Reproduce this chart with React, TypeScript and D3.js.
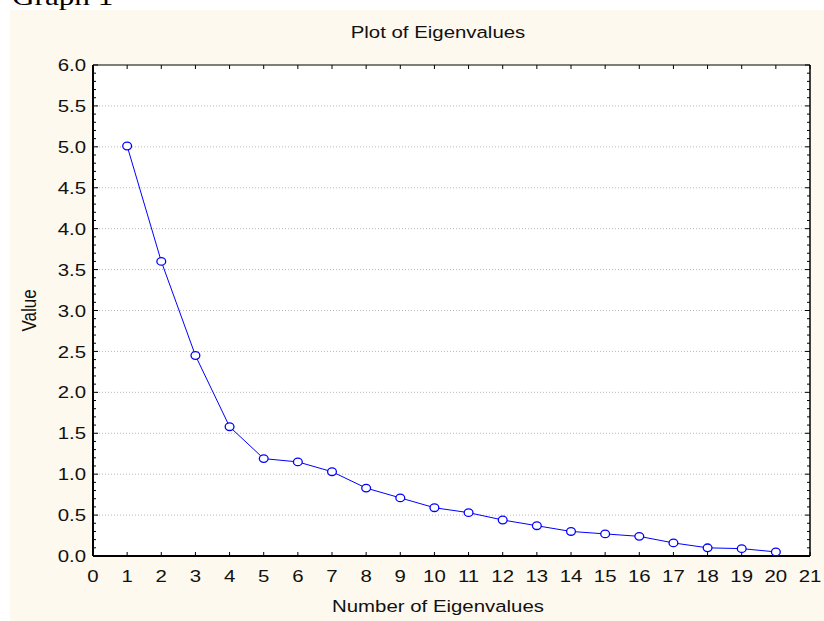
import * as d3 from 'd3';

// eigenvalues
const eigenIndex = [1, 2, 3, 4, 5, 6, 7, 8, 9, 10, 11, 12, 13, 14, 15, 16, 17, 18, 19, 20];
const eigenValues = [5.01, 3.6, 2.45, 1.58, 1.19, 1.15, 1.03, 0.83, 0.71, 0.59, 0.53, 0.44, 0.37, 0.3, 0.27, 0.24, 0.16, 0.1, 0.09, 0.05];
const xTicks = d3.range(0, 22);
const yTicks = [0, 0.5, 1, 1.5, 2, 2.5, 3, 3.5, 4, 4.5, 5, 5.5, 6];

const W = 824;
const H = 621;
const left = 93, right = 810, top = 65, bottom = 556;
// the original picture is a bit wider than tall, text looks stretched
const SX = 1.2;

export default function App() {
  const x = d3.scaleLinear().domain([0, 21]).range([left, right]);
  const y = d3.scaleLinear().domain([0, 6]).range([bottom, top]);
  const minor = d3.range(0, 61).map(i => i / 10);

  const line = d3.line<number>()
    .x((_, i) => x(eigenIndex[i]))
    .y(d => y(d));

  const font = "'Liberation Sans', Arial, sans-serif";
  const txt = (key: string, tx: number, ty: number, s: string, anchor = 'middle', dy = '0') => (
    <text key={key} transform={`translate(${tx},${ty}) scale(${SX},1)`} dy={dy} textAnchor={anchor}
      fontFamily={font} fontSize={17} fill="#111">{s}</text>
  );

  return (
    <svg width={W} height={H} style={{ position: 'absolute', left: 0, top: 0 }}>
      <rect x={10} y={10} width={W - 10} height={H - 10} fill="#fdf9ee" />
      <text transform={`translate(12,5) scale(${SX},1)`} fontFamily="'Liberation Serif', 'Times New Roman', serif" fontSize={26} fill="#000">Graph 1</text>

      <rect x={left} y={top} width={right - left} height={bottom - top} fill="#fff" />

      {/* dotted grid */}
      {yTicks.slice(1, -1).map(t => (
        <line key={'g' + t} x1={left} x2={right} y1={y(t)} y2={y(t)}
          stroke="#b8b8b8" strokeWidth={1} strokeDasharray="1,2" />
      ))}

      {/* minor/major y ticks, left & right */}
      {minor.map((t, i) => {
        const len = i % 5 === 0 ? 5 : 3;
        return (
          <g key={'m' + i}>
            <line x1={left} x2={left + len} y1={y(t)} y2={y(t)} stroke="#000" strokeWidth={1} />
            <line x1={right} x2={right - len} y1={y(t)} y2={y(t)} stroke="#000" strokeWidth={1} />
          </g>
        );
      })}

      {/* x ticks bottom & top */}
      {xTicks.map(t => (
        <g key={'x' + t}>
          <line x1={x(t)} x2={x(t)} y1={bottom} y2={bottom - 4} stroke="#000" strokeWidth={1} />
          <line x1={x(t)} x2={x(t)} y1={top} y2={top + 4} stroke="#000" strokeWidth={1} />
          {txt('xl' + t, x(t), 582, String(t))}
        </g>
      ))}

      {yTicks.map(t => txt('yl' + t, 86, y(t), d3.format('.1f')(t), 'end', '0.36em'))}

      {/* frame */}
      <line x1={left} x2={right} y1={bottom} y2={bottom} stroke="#000" strokeWidth={2} />
      <line x1={left} x2={left} y1={top} y2={bottom} stroke="#000" strokeWidth={2} />
      <line x1={left} x2={right} y1={top} y2={top} stroke="#000" strokeWidth={1} />
      <line x1={right} x2={right} y1={top} y2={bottom} stroke="#000" strokeWidth={1.5} />

      <path d={line(eigenValues) || ''} fill="none" stroke="#0000ff" strokeWidth={1} />
      {eigenValues.map((v, i) => (
        <ellipse key={'c' + i} cx={x(eigenIndex[i])} cy={y(v)} rx={4.4} ry={3.8} fill="#fff" stroke="#0000ff" strokeWidth={1.3} />
      ))}

      {txt('title', 438, 38, 'Plot of Eigenvalues')}
      {txt('xlab', 438, 612, 'Number of Eigenvalues')}
      <text transform={`translate(36,${(top + bottom) / 2}) scale(${SX},1) rotate(-90)`} textAnchor="middle"
        fontFamily={font} fontSize={17} fill="#111">Value</text>
    </svg>
  );
}
